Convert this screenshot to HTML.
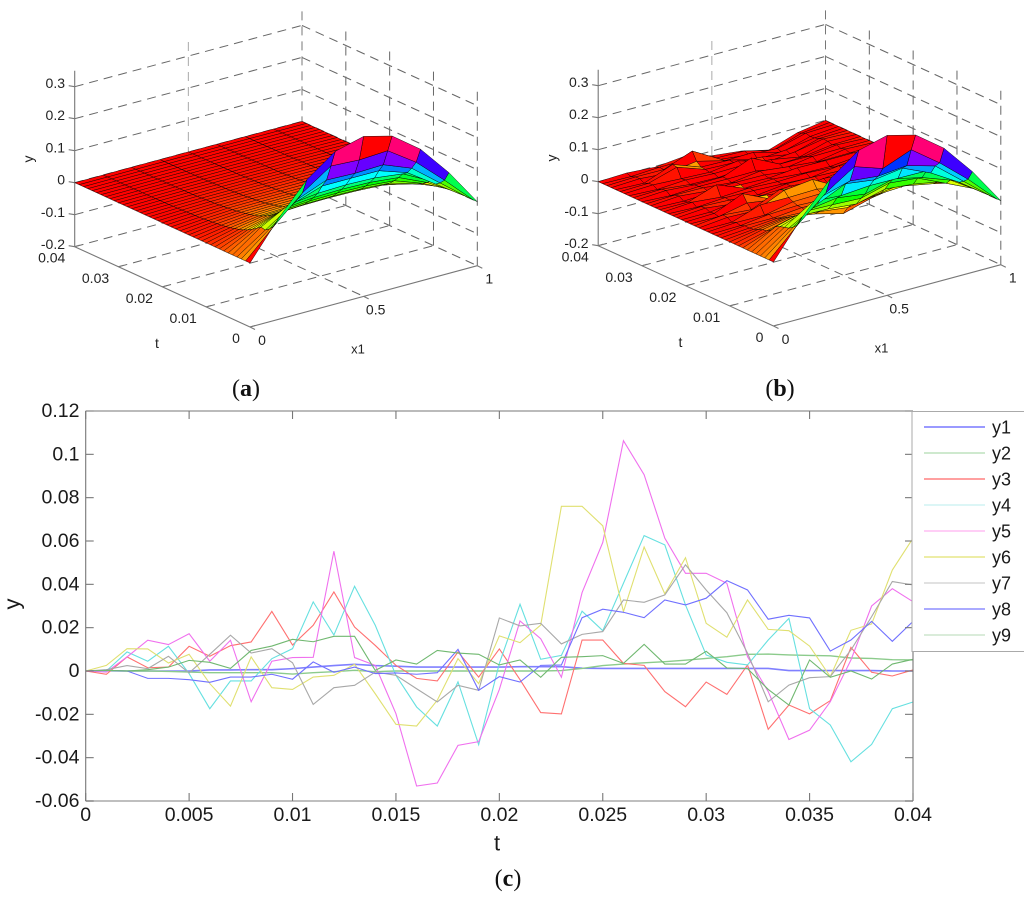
<!DOCTYPE html>
<html lang="en">
<head>
<meta charset="utf-8">
<title>Surface and error plots</title>
<style>
html,body{margin:0;padding:0;background:#fff;}
svg{display:block;font-family:"Liberation Sans",Arial,sans-serif;}
</style>
</head>
<body>
<svg id="figure" xmlns="http://www.w3.org/2000/svg" width="1024" height="898" viewBox="0 0 1024 898">
  <rect width="1024" height="898" fill="#fff"/>
  <g id="panel-a"></g>
  <g id="panel-b"></g>
  <g id="panel-c"></g>
  <text x="246" y="396" text-anchor="middle" font-family="Liberation Serif, serif" font-size="24" fill="#111">(<tspan font-weight="bold">a</tspan>)</text>
  <text x="780" y="396" text-anchor="middle" font-family="Liberation Serif, serif" font-size="24" fill="#111">(<tspan font-weight="bold">b</tspan>)</text>
  <text x="508" y="886" text-anchor="middle" font-family="Liberation Serif, serif" font-size="24" fill="#111">(<tspan font-weight="bold">c</tspan>)</text>
</svg>
<script>
/* ---------- line chart data (one value per millisecond, t = 0 .. 0.04) ---------- */
const seriesNames = ['y1','y2','y3','y4','y5','y6','y7','y8','y9'];
const y1 = [0,.0001,0,0,0,0,.0005,.0005,.0006,.0006,.0011,.0018,.0025,.0031,.0025,.0022,.0018,.0018,.0018,.0018,.0018,.002,.002,.002,.0013,.0012,.0012,.0012,.0012,.0012,.0012,.0012,.0012,.0012,.0002,.0002,.0002,.0002,.0002,0,0];
const y2 = [0,.0002,0,0,-.0002,-.0005,-.0008,-.0008,-.0008,-.0008,-.0014,-.0008,-.0003,.0003,-.0003,0,0,0,0,0,0,0,0,.0002,.0012,.0025,.0032,.0038,.0043,.005,.0058,.0066,.0077,.0078,.0074,.0072,.007,.006,.0058,.0052,.0051];
const y3 = [0,-.0015,.0065,.0015,.0018,.0114,.0068,.0117,.0134,.0275,.012,.0211,.0365,.0203,.0118,.0026,-.0034,-.0046,.0088,-.0028,.0102,-.004,-.0192,-.0198,.0143,.0143,.0035,.0026,-.0095,-.0165,-.0051,-.0108,.0028,-.0269,-.0157,-.0198,-.0137,.0109,-.0006,-.0023,.0005];
const y4 = [0,0,.0088,.0045,.0114,-.0012,-.0174,-.0046,-.0046,.0057,.0103,.0319,.0166,.0391,.0211,-.002,-.0166,-.0254,-.005,-.034,.0035,.0308,.0054,.0072,.0276,.0186,.0405,.0625,.0582,.0305,.0074,.004,.0028,.0143,.0243,-.0174,-.0249,-.0419,-.0339,-.0174,-.0143];
const y5 = [0,-.0005,.0065,.0142,.0122,.0172,.0045,.0142,-.0142,.0045,.0062,.0063,.0553,.0062,.0026,-.0197,-.0531,-.0517,-.0343,-.0326,-.0085,.0231,.0149,-.0029,.0362,.0593,.1063,.0906,.0613,.0451,.0451,.0405,.0066,-.0095,-.0316,-.0273,-.0142,.0051,.03,.038,.032];
const y6 = [0,.0026,.0103,.0102,.0037,.0077,-.0058,-.0162,.0065,-.0077,-.0085,-.0028,-.002,.0031,-.0105,-.0246,-.0254,-.0135,.0057,-.0058,.0162,.0131,.0212,.076,.076,.067,.0274,.0572,.0356,.0523,.022,.0156,.0328,.0192,.0186,.0115,-.0026,.0188,.0217,.0466,.0613];
const y7 = [0,.0006,.0025,.0011,.0068,-.0009,.0077,.0165,.0083,.0103,.0038,-.0154,-.0077,-.0066,-.0005,-.002,-.0082,-.0143,-.0066,-.0089,.0245,.0208,.022,.0125,.0169,.0182,.0328,.0317,.0351,.049,.0374,.0269,.0082,-.0142,-.0065,-.0031,-.0026,.0097,.0251,.0413,.0397];
const y8 = [0,.0003,0,-.0034,-.0034,-.004,-.0052,-.0028,-.0028,-.0015,-.0038,.0042,-.0006,.0018,-.0012,-.0009,-.0015,-.0008,.01,-.0089,-.0026,-.0051,.0026,.0028,.0246,.0285,.0271,.0246,.0328,.0305,.0336,.0417,.0374,.0239,.0257,.0245,.0092,.0143,.0229,.0137,.0229];
const y9 = [0,.0003,0,.0006,.0018,.0049,.004,.0012,.0095,.0115,.0146,.0135,.016,.016,.0003,.0051,.0032,.0095,.0083,.0077,.0028,.0051,-.0029,.0063,.0066,.0071,.0035,.0123,.0032,.0032,.0091,.0014,.0011,-.0085,-.0157,.0051,-.0029,0,-.0037,.0032,.0054];
const xTickValues = [0,.005,.01,.015,.02,.025,.03,.035,.04];
const xTickLabels = ['0','0.005','0.01','0.015','0.02','0.025','0.03','0.035','0.04'];
const yTickValues = [.12,.1,.08,.06,.04,.02,0,-.02,-.04,-.06];
const yTickLabels = ['0.12','0.1','0.08','0.06','0.04','0.02','0','-0.02','-0.04','-0.06'];

/* ---------- surface data ---------- */
const surfaceFirstRows = [
  [0,.115,.212,.277,.3,.277,.212,.115,0],
  [0,.085,.165,.225,.22,.225,.165,.085,0],
  [0,.07,.14,.175,.172,.175,.14,.07,0],
  [0,.06,.12,.15,.15,.15,.12,.06,0]
];
const surfaceAmplitude = [0,.115,.2,.22,.225,.22,.2,.115,0];
const surfaceDecay = [1,.874,.763,.667,.55,.46,.38,.31,.255,.214,.181,.15,.129,.11,.095,.082,.07,.06,.053,.046,.04,.035,.03,.026,.022,.019,.016,.014,.012,.01,.009,.008,.007,.006,.005,.004,.004,.003,.003,.002,.002];
/* disturbance of the interior columns in panel (b), thousandths of y, read by eye */
const surfaceNoise = [
[0,0,0,0,0,0,0],[0,-3,-5,-30,0,-5,0],[2,4,-6,-12,-6,4,2],[3,-6,4,-8,5,-4,3],[-4,6,-10,-6,-4,6,-2],
[2,-8,-4,-18,8,-3,4],[5,-4,-14,-20,6,5,-3],[-3,-10,-18,-28,-4,-6,4],[-6,-5,-6,-22,-10,8,2],[-4,-6,-18,-30,-14,-5,-4],
[-6,-8,-24,-48,-22,-4,3],[-8,-10,-22,-30,-12,-6,-5],[-8,-12,-18,-22,-8,-6,-2],[-5,-14,-8,-10,-4,-7,-4],[-9,-6,-4,-8,-6,-4,-3],
[-4,-12,4,6,-8,-6,2],[-8,16,14,16,-4,-8,-2],[2,-6,32,42,-6,-4,-4],[4,-8,30,10,-10,2,-3],[-7,8,-6,-14,-4,-5,-2],
[-2,32,-10,-8,-8,-6,2],[-4,6,-2,-12,2,-6,-3],[3,-10,-8,-3,-10,3,-2],[2,-4,-12,-2,-3,-6,3],[-6,-2,-4,-8,-12,2,-3],
[4,-6,-2,-6,-3,-8,2],[-2,27,-8,-3,-10,-12,-2],[-5,-2,-3,-6,2,1,3],[5,-4,-1,-2,-14,-6,-4],[2,0,-8,4,-6,-14,2],
[-6,-2,-3,-2,-18,-4,-2],[4,-3,-2,33,-10,-10,3],[2,-8,-10,-3,-20,-16,-3],[-5,0,-4,-2,-8,-24,2],[3,-2,-6,6,-22,-14,3],
[2,28,-3,-6,-12,-28,-2],[-4,30,-2,-4,-26,-20,-6],[4,-3,10,-12,-10,-34,-8],[3,2,36,-14,-24,-28,-4],[-2,3,4,-16,-18,-40,-10],
[3,-3,6,-15,-25,-45,-15]
];
const x1GridValues = [0,.125,.25,.375,.5,.625,.75,.875,1];
const zTicks = [.3,.2,.1,0,-.1,-.2];
const zTickLabels = ['0.3','0.2','0.1','0','-0.1','-0.2'];
const tTicks = [.04,.03,.02,.01,0];
const tTickLabels = ['0.04','0.03','0.02','0.01','0'];
const x1Ticks = [0,.5,1];
const x1TickLabels = ['0','0.5','1'];

/* ---------- helpers ---------- */
const SVGNS = 'http://www.w3.org/2000/svg';
function make(parent, tag, attrs){
  const el = document.createElementNS(SVGNS, tag);
  for (const k in attrs) el.setAttribute(k, attrs[k]);
  parent.appendChild(el);
  return el;
}

/* ---------- surface grids ---------- */
function gridA(j, i){
  if (j < surfaceFirstRows.length) return surfaceFirstRows[j][i];
  return surfaceAmplitude[i] * surfaceDecay[j];
}
function gridB(j, i){
  const n = (i === 0 || i === 8) ? 0 : surfaceNoise[j][i - 1] / 1000;
  return gridA(j, i) + n;
}

/* ---------- 3-D panels ---------- */
function project(px, py, x1, t, y){
  const f = t / 0.04, h = (y + 0.2);
  return [px + 250 + 227.3 * x1 - 175.3 * f, py + 327 - 61.3 * x1 - 80.3 * f - 320 * h];
}
function colourOf(v){
  const c = Math.max(0, Math.min(1, v / 0.3));
  return 'hsl(' + (c * 360).toFixed(1) + ',100%,50%)';
}
function dashed(g, a, b, colour){
  const l = make(g, 'line', {x1:a[0], y1:a[1], x2:b[0], y2:b[1], stroke:colour || '#666', 'stroke-width':1, 'stroke-dasharray':'9 6'});
  
  
}
function solid(g, a, b, name){
  const l = make(g, 'line', {x1:a[0], y1:a[1], x2:b[0], y2:b[1], stroke:'#777', 'stroke-width':1.1});
  
  
}
function label(g, x, y, str, size, anchor, name, rot){
  const t = make(g, 'text', {x:x, y:y, 'font-size':size, 'text-anchor':anchor || 'middle', fill:'#222', 'dominant-baseline':'central'});
  if (rot) t.setAttribute('transform', 'rotate(' + rot + ' ' + x + ' ' + y + ')');
  t.textContent = str;
  
  
}
function drawPanel(id, px, py, gridFn){
  const g = document.getElementById(id);
  const P = (x1, t, y) => project(px, py, x1, t, y);
  const top = 0.35, bot = -0.2;
  /* walls */
  zTicks.forEach(z => {
    dashed(g, P(0,.04,z), P(1,.04,z));
    dashed(g, P(1,.04,z), P(1,0,z));
  });
  dashed(g, P(.5,.04,bot), P(.5,.04,top), '#aaa');
  dashed(g, P(1,.04,bot), P(1,.04,top), '#777');
  [.03,.02,.01,0].forEach(t => dashed(g, P(1,t,bot), P(1,t,top), '#666'));
  /* floor */
  dashed(g, P(.5,.04,bot), P(.5,0,bot));
  [.03,.02,.01].forEach(t => dashed(g, P(0,t,bot), P(1,t,bot)));
  /* axes */
  solid(g, P(0,.04,bot), P(0,.04,top), 'y-axis');
  solid(g, P(0,.04,bot), P(0,0,bot), 't-axis');
  solid(g, P(0,0,bot), P(1,0,bot), 'x1-axis');
  zTicks.forEach(z => { const p = P(0,.04,z); solid(g, [p[0]-6,p[1]-1], p, 'y-tick'); });
  tTicks.forEach(t => { const p = P(0,t,bot); solid(g, p, [p[0]+5,p[1]-1.5], 't-tick'); });
  x1Ticks.forEach(x => { const p = P(x,0,bot); solid(g, p, [p[0]+5,p[1]+2.5], 'x1-tick'); });
  /* surface, far cells first */
  const surf = make(g, 'g', {});
  
  
  for (let j = 39; j >= 0; j--){
    for (let i = 7; i >= 0; i--){
      const t0 = j * .001, t1 = (j + 1) * .001;
      const x0 = x1GridValues[i], x1v = x1GridValues[i + 1];
      const pts = [
        P(x0, t0, gridFn(j, i)),
        P(x1v, t0, gridFn(j, i + 1)),
        P(x1v, t1, gridFn(j + 1, i + 1)),
        P(x0, t1, gridFn(j + 1, i))
      ].map(p => p[0].toFixed(1) + ',' + p[1].toFixed(1)).join(' ');
      let v = gridFn(j, i);
      if (i === 0) v = j === 0 ? 0 : gridFn(j, 1) * 0.35;
      const poly = make(surf, 'polygon', {points:pts, fill:colourOf(v), stroke:'#000', 'stroke-width':.5, 'stroke-opacity':.85, 'stroke-linejoin':'round'});
      
      
    }
  }
  /* labels */
  zTicks.forEach((z, n) => label(g, px + 65, py + 83 + n * 32.2, zTickLabels[n], 14, 'end', 'y-tick-label'));
  tTicks.forEach((t, n) => {
    const p = P(0, t, bot);
    label(g, p[0] + (n === 4 ? -14 : -23), p[1] + 11, tTickLabels[n], 14, 'middle', 't-tick-label');
  });
  x1Ticks.forEach((x, n) => {
    const p = P(x, 0, bot);
    label(g, p[0] + 12, p[1] + 13, x1TickLabels[n], 14, 'middle', 'x1-tick-label');
  });
  label(g, px + 157, py + 343, 't', 14, 'middle', 't-axis-title');
  label(g, px + 358, py + 349, 'x1', 13, 'middle', 'x1-axis-title');
  label(g, px + 28, py + 159, 'y', 14, 'middle', 'y-axis-title', -90);
}
drawPanel('panel-a', 0, 0, gridA);
drawPanel('panel-b', 523.5, -1, gridB);

/* ---------- line chart ---------- */
(function(){
  const g = document.getElementById('panel-c');
  const L = 85.7, R = 913, T = 411, B = 801;
  const sx = t => L + (t / 0.04) * (R - L);
  const sy = v => B - (v + 0.06) / 0.18 * (B - T);
  const colours = ['#8080ff','#8ccb8c','#ff7070','#66e0e0','#f070ee','#e0e070','#a8a8a8','#7070ff','#70b870'];
  const widths  = [1.6,1.4,1.1,1.1,1.1,1.1,1.1,1.1,1.1];
  const legendColours = ['#9a9aff','#b0dcb0','#ff8080','#c6f1f1','#ffb0f0','#e2e270','#cfcfcf','#7878ff','#cde6cd'];
  const legendWidths = [2,1.2,1.4,1.2,1.2,1.2,1.2,1.2,1.6];
  const all = [y1,y2,y3,y4,y5,y6,y7,y8,y9];
  all.forEach((vals, s) => {
    const pts = vals.map((v, i) => sx(i * .001).toFixed(2) + ',' + sy(v).toFixed(2)).join(' ');
    const line = make(g, 'polyline', {points:pts, fill:'none', stroke:colours[s], 'stroke-width':widths[s]});
    
    
  });
  /* frame */
  function ax(x1, y1v, x2, y2v, name, colour, w){
    const l = make(g, 'line', {x1:x1, y1:y1v, x2:x2, y2:y2v, stroke:colour || '#777', 'stroke-width':w || 1.1});
    
    
  }
  ax(L, T, R, T, 'plot-top-border');
  ax(L, T, L, B, 'y-axis');
  ax(R, T, R, B, 'plot-right-border');
  ax(L, B, R, B, 'x-axis', '#aaa', 1.6);
  xTickValues.forEach((t, n) => {
    ax(sx(t), B, sx(t), B - 8, 'x-tick');
    ax(sx(t), T, sx(t), T + 8, 'x-tick-top');
    const txt = make(g, 'text', {x:sx(t), y:815, 'font-size':19.5, 'text-anchor':'middle', 'dominant-baseline':'central', fill:'#1a1a1a'});
    txt.textContent = xTickLabels[n];
    
    
  });
  yTickValues.forEach((v, n) => {
    ax(L, sy(v), L + 8, sy(v), 'y-tick');
    ax(R, sy(v), R - 8, sy(v), 'y-tick-right');
    const txt = make(g, 'text', {x:79.5, y:sy(v), 'font-size':19.5, 'text-anchor':'end', 'dominant-baseline':'central', fill:'#1a1a1a'});
    txt.textContent = yTickLabels[n];
    
    
  });
  const xt = make(g, 'text', {x:497, y:843, 'font-size':22, 'text-anchor':'middle', 'dominant-baseline':'central', fill:'#1a1a1a'});
  xt.textContent = 't';
  
  
  const yt = make(g, 'text', {x:12, y:604, 'font-size':22, 'text-anchor':'middle', 'dominant-baseline':'central', fill:'#1a1a1a', transform:'rotate(-90 12 604)'});
  yt.textContent = 'y';
  
  
  /* legend */
  const leg = make(g, 'g', {});
  
  
  const box = make(leg, 'path', {d:'M1024 411.5H912V651.5H1024', fill:'#fff', stroke:'#aaa', 'stroke-width':1});
  
  
  seriesNames.forEach((n, s) => {
    const yy = 427 + s * 26;
    const row = make(leg, 'g', {});
    
    
    make(row, 'line', {x1:924, y1:yy, x2:985, y2:yy, stroke:legendColours[s], 'stroke-width':legendWidths[s]});
    const t = make(row, 'text', {x:992, y:yy + .5, 'font-size':18, 'dominant-baseline':'central', fill:'#1a1a1a'});
    t.textContent = n;
  });
})();
</script>
</body>
</html>
